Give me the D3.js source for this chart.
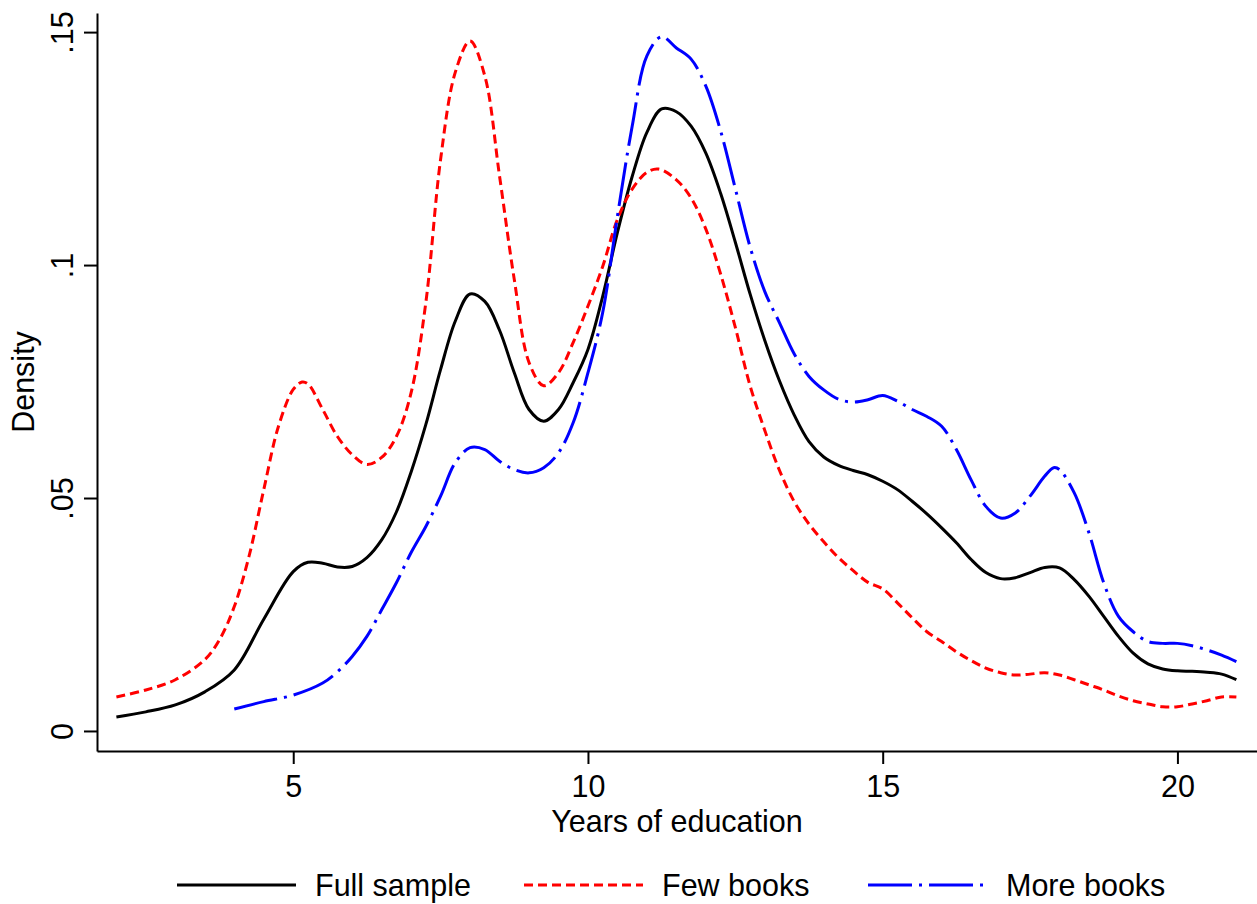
<!DOCTYPE html>
<html>
<head>
<meta charset="utf-8">
<script src="https://cdn.jsdelivr.net/npm/d3@7"></script>
<style>
  body { margin: 0; background: #fff; }
  text { font-family: "Liberation Sans", Arial, Helvetica, sans-serif; fill: #000; }
</style>
</head>
<body>
<script>

WIDTH = 1257;
HEIGHT = 904;
PLOT = ({left: 97, right: 1257, top: 13, bottom: 751});
FONT_SIZE = 30.5;

// kernel density of years of education
var fullYears = [2, 2.5, 3, 3.5, 4, 4.5, 5, 5.25, 5.5, 5.75, 6, 6.25, 6.5, 6.75, 7, 7.25, 7.5, 7.75, 8, 8.25, 8.5, 8.75, 9, 9.25, 9.5, 9.75, 10, 10.25, 10.5, 10.75, 11, 11.25, 11.5, 11.75, 12, 12.25, 12.5, 12.75, 13, 13.25, 13.5, 13.75, 14, 14.25, 14.5, 14.75, 15, 15.25, 15.5, 15.75, 16, 16.25, 16.5, 16.75, 17, 17.25, 17.5, 17.75, 18, 18.25, 18.5, 18.75, 19, 19.25, 19.5, 19.75, 20, 20.25, 20.5, 20.75, 21];
var fullDensity = [.0030, .0041, .0056, .0084, .0131, .0240, .0342, .0362, .0360, .0352, .0353, .0372, .0410, .0470, .0556, .0658, .0776, .0880, .0938, .0922, .0860, .0769, .0690, .0665, .0690, .0748, .0819, .0933, .1070, .1190, .1285, .1335, .1329, .1298, .1240, .1154, .1049, .0938, .0838, .0751, .0678, .0621, .0588, .0570, .0559, .0550, .0536, .0518, .0493, .0466, .0436, .0404, .0368, .0340, .0327, .0329, .0340, .0351, .0350, .0325, .0289, .0246, .0203, .0167, .0144, .0133, .0129, .0128, .0126, .0122, .0110];

var fewYears = [2, 2.5, 3, 3.5, 3.75, 4, 4.25, 4.5, 4.75, 5, 5.15, 5.25, 5.5, 5.75, 6, 6.25, 6.5, 6.75, 7, 7.25, 7.5, 7.75, 8, 8.25, 8.5, 8.75, 9, 9.25, 9.5, 9.75, 10, 10.25, 10.5, 10.75, 11, 11.2, 11.5, 11.75, 12, 12.25, 12.5, 12.75, 13, 13.25, 13.5, 13.75, 14, 14.25, 14.5, 14.75, 15, 15.25, 15.5, 15.75, 16, 16.25, 16.5, 16.75, 17, 17.25, 17.5, 17.75, 18, 18.25, 18.5, 18.75, 19, 19.25, 19.5, 19.75, 20, 20.25, 20.5, 20.75, 21];
var fewDensity = [.0073, .0088, .0110, .0153, .0196, .0267, .0375, .0518, .0654, .0733, .0749, .0745, .0690, .0632, .0593, .0572, .0587, .0632, .0726, .0920, .1227, .1414, .1481, .1406, .1191, .0969, .0791, .0741, .0769, .0834, .0912, .0997, .1098, .1163, .1199, .1206, .1183, .1144, .1077, .0981, .0866, .0741, .0645, .0559, .0492, .0444, .0406, .0372, .0344, .0319, .0305, .0275, .0243, .0213, .0192, .0170, .0151, .0135, .0125, .0120, .0122, .0125, .0120, .0110, .0099, .0088, .0075, .0065, .0058, .0052, .0052, .0058, .0065, .0073, .0073];

var moreYears = [4, 4.5, 5, 5.5, 5.75, 6, 6.25, 6.5, 6.75, 7, 7.25, 7.5, 7.75, 8, 8.25, 8.5, 8.75, 9, 9.25, 9.5, 9.75, 10, 10.25, 10.5, 10.75, 11, 11.25, 11.5, 11.75, 12, 12.25, 12.5, 12.75, 13, 13.25, 13.5, 13.75, 14, 14.25, 14.5, 14.75, 15, 15.25, 15.5, 15.75, 16, 16.25, 16.5, 16.75, 17, 17.25, 17.5, 17.75, 17.9, 18, 18.25, 18.5, 18.75, 19, 19.25, 19.5, 19.75, 20, 20.25, 20.5, 20.75, 21];
var moreDensity = [.0047, .0063, .0077, .0103, .0127, .0160, .0203, .0260, .0318, .0383, .0439, .0504, .0576, .0608, .0604, .0579, .0561, .0554, .0565, .0597, .0662, .0769, .0898, .1105, .1298, .1449, .1490, .1466, .1442, .1384, .1288, .1164, .1039, .0943, .0876, .0809, .0761, .0732, .0712, .0706, .0711, .0720, .0708, .0690, .0675, .0654, .0604, .0539, .0482, .0457, .0468, .0504, .0547, .0565, .0561, .0511, .0425, .0318, .0246, .0213, .0192, .0188, .0188, .0183, .0174, .0163, .0149];

var xTicks = [5, 10, 15, 20];
var yTicks = [0, .05, .1, .15];
var seriesNames = ["Full sample", "Few books", "More books"];

var series = [
    {name: seriesNames[0], x: fullYears, y: fullDensity, color: "#000", dash: null},
    {name: seriesNames[1], x: fewYears, y: fewDensity, color: "#ff0000", dash: "9,5"},
    {name: seriesNames[2], x: moreYears, y: moreDensity, color: "#0000ff", dash: "44,7,3,7"}
];

var svg = d3.select("body").append("svg")
    .attr("width", WIDTH)
    .attr("height", HEIGHT);

var x = d3.scaleLinear()
    .domain([1.671, 21.35])
    .range([PLOT.left, PLOT.right]);

var y = d3.scaleLinear()
    .domain([-0.0043, 0.1541])
    .range([PLOT.bottom, PLOT.top]);

function yFormat(d) {
    return d === 0 ? "0" : d3.format(".2~f")(d).replace(/^0/, "");
}

// x axis
var gx = svg.append("g")
    .attr("transform", `translate(0,${PLOT.bottom})`)
    .call(d3.axisBottom(x).tickValues(xTicks).tickSize(13).tickSizeOuter(0));
gx.select(".domain").attr("stroke-width", 2);
gx.selectAll(".tick line").attr("stroke-width", 2);
gx.selectAll(".tick text")
    .attr("y", 46)
    .attr("dy", 0)
    .attr("font-size", FONT_SIZE)
    .attr("font-family", null);

// y axis, labels turned sideways
var gy = svg.append("g")
    .attr("transform", `translate(${PLOT.left},0)`)
    .call(d3.axisLeft(y).tickValues(yTicks).tickFormat(yFormat).tickSize(13).tickSizeOuter(0));
gy.select(".domain").attr("stroke-width", 2);
gy.selectAll(".tick line").attr("stroke-width", 2);
gy.selectAll(".tick text")
    .attr("transform", "rotate(-90)")
    .attr("x", 0)
    .attr("y", -24)
    .attr("dy", 0)
    .attr("text-anchor", "middle")
    .attr("font-size", FONT_SIZE)
    .attr("font-family", null);

svg.append("text")
    .attr("x", (PLOT.left + PLOT.right) / 2)
    .attr("y", 832)
    .attr("text-anchor", "middle")
    .attr("font-size", FONT_SIZE)
    .text("Years of education");

svg.append("text")
    .attr("transform", `translate(34,${(PLOT.top + PLOT.bottom) / 2}) rotate(-90)`)
    .attr("text-anchor", "middle")
    .attr("font-size", FONT_SIZE)
    .text("Density");

// density curves
var line = d3.line()
    .x(d => x(d[0]))
    .y(d => y(d[1]))
    .curve(d3.curveCatmullRom.alpha(0.5));

svg.selectAll(".curve")
    .data(series)
    .enter().append("path")
    .attr("class", "curve")
    .attr("fill", "none")
    .attr("stroke", d => d.color)
    .attr("stroke-width", 3)
    .attr("stroke-dasharray", d => d.dash)
    .attr("d", d => line(d.x.map((v, i) => [v, d.y[i]])));

// legend
var legendX = [177, 524, 868];
var legend = svg.selectAll(".legend")
    .data(series)
    .enter().append("g")
    .attr("class", "legend")
    .attr("transform", (d, i) => `translate(${legendX[i]},885)`);

legend.append("line")
    .attr("x1", 0)
    .attr("x2", 119)
    .attr("stroke", d => d.color)
    .attr("stroke-width", 3)
    .attr("stroke-dasharray", d => d.dash);

legend.append("text")
    .attr("x", 138)
    .attr("y", 11)
    .attr("font-size", FONT_SIZE)
    .text(d => d.name);

</script>
</body>
</html>
